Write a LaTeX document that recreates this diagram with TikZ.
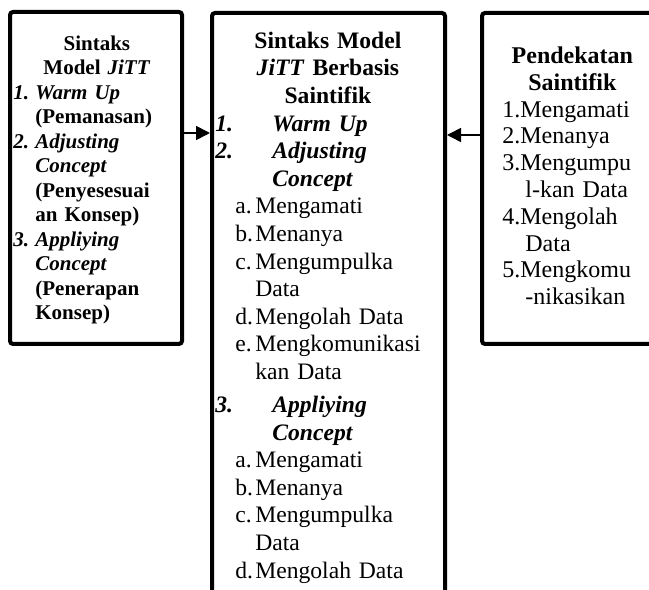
\documentclass[tikz,border=0pt]{standalone}
\usepackage{fontspec}
\setmainfont{Liberation Serif}
\usetikzlibrary{positioning,arrows.meta}

\newcommand{\butir}[3]{\par\noindent\hangindent=#1\hangafter=1\makebox[#1][l]{#2}{#3}}
\newcommand{\subbutir}[2]{\par\noindent\hangindent=20pt\hangafter=1\hspace*{10pt}\makebox[10pt][l]{#1}#2}
\newcommand{\langkah}[1]{\par\noindent\hangindent=11.5pt\hangafter=1 #1}

\begin{document}
\begin{tikzpicture}[
    kotak/.style={draw, rectangle, line width=2pt, rounded corners=1.5pt, inner sep=0pt},
    isi/.style={inner sep=0pt, anchor=north west, execute at begin node={\parindent=0pt\parskip=0pt}},
    panah/.style={-{Triangle[length=7pt,width=7pt]}, line width=0.8pt}
]
\useasboundingbox (0,0) rectangle (324.5pt,295pt);
\clip (0,0) rectangle (324.5pt,295pt);

% Kotak
\node[kotak, minimum width=86pt, minimum height=166pt] (jitt) at (48pt,206pt) {};
\node[kotak, minimum width=116.5pt, minimum height=303.5pt] (gabung) at (164.25pt,136.75pt) {};
\node[kotak, minimum width=89pt, minimum height=165.5pt] (saintifik) at (285.5pt,205.75pt) {};

% Isi kotak kiri
\node[isi, text width=83.5pt, font=\fontsize{10.5}{12.23}\selectfont\bfseries] (jittIsi) at ([xshift=2.5pt,yshift=-12.75pt]jitt.north west) {
  {\centering Sintaks\par Model \textit{JiTT}\par}
  \butir{11pt}{\textit{1.}}{\textit{Warm Up}\newline (Pemanasan)}
  \butir{11pt}{\textit{2.}}{\textit{Adjusting}\newline \textit{Concept}\newline (Penyesesuai\newline an Konsep)}
  \butir{11pt}{\textit{3.}}{\textit{Appliying}\newline \textit{Concept}\newline (Penerapan\newline Konsep)}\par
};

% Isi kotak tengah
\node[isi, text width=112.5pt, font=\fontsize{11.8}{13.8}\selectfont] (gabungIsi) at ([xshift=2.5pt,yshift=-10.25pt]gabung.north west) {
  {\centering\bfseries Sintaks Model\par \textit{JiTT} Berbasis\par Saintifik\par}
  \butir{28.5pt}{\bfseries\itshape 1.}{\bfseries\itshape Warm Up}
  \butir{28.5pt}{\bfseries\itshape 2.}{\bfseries\itshape Adjusting\newline Concept}
  \subbutir{a.}{Mengamati}
  \subbutir{b.}{Menanya}
  \subbutir{c.}{Mengumpulka\newline Data}
  \subbutir{d.}{Mengolah Data}
  \subbutir{e.}{Mengkomunikasi\newline kan Data}
  \par\vspace{2.75pt}
  \butir{28.5pt}{\bfseries\itshape 3.}{\bfseries\itshape Appliying\newline Concept}
  \subbutir{a.}{Mengamati}
  \subbutir{b.}{Menanya}
  \subbutir{c.}{Mengumpulka\newline Data}
  \subbutir{d.}{Mengolah Data}\par
};

% Isi kotak kanan
\node[isi, text width=70pt, font=\fontsize{12}{13.4}\selectfont] (saintifikIsi) at ([xshift=11pt,yshift=-17.75pt]saintifik.north west) {
  {\centering\bfseries Pendekatan\par Saintifik\par}
  \langkah{1.Mengamati}
  \langkah{2.Menanya}
  \langkah{3.Mengumpu\newline l-kan Data}
  \langkah{4.Mengolah\newline Data}
  \langkah{5.Mengkomu\newline -nikasikan}\par
};

\draw[panah] ([yshift=22.5pt]jitt.east) -- ([yshift=22.5pt]jitt.east -| gabung.west);
\draw[panah] ([yshift=21.75pt]saintifik.west) -- ([yshift=21.75pt]saintifik.west -| gabung.east);

\end{tikzpicture}
\end{document}
